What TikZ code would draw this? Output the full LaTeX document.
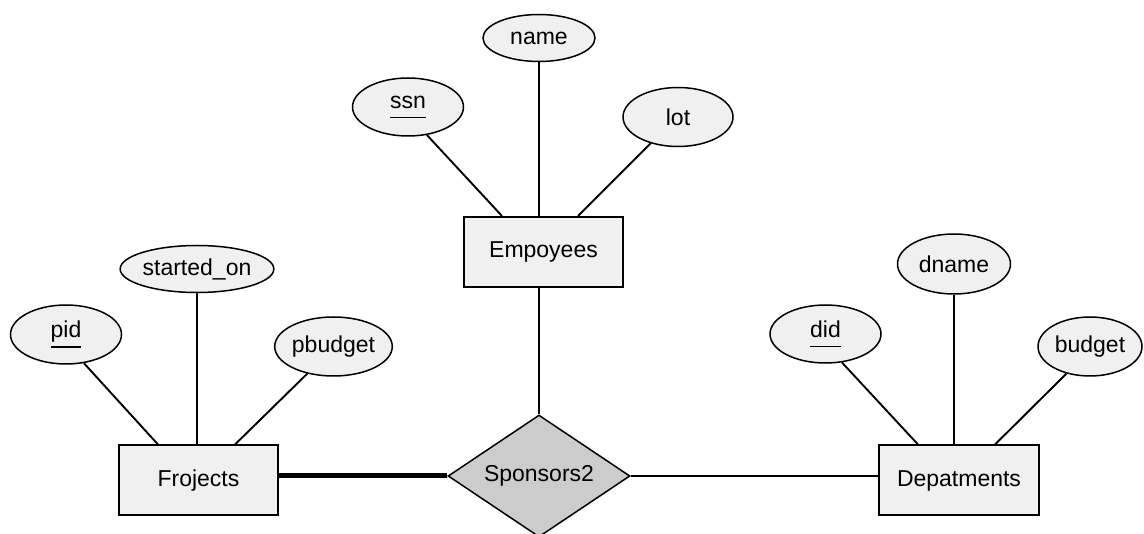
\documentclass[tikz,border=0pt]{standalone}
\usepackage{fontspec}
\setmainfont{Liberation Sans}
\usetikzlibrary{shapes.geometric}

\definecolor{attrfill}{HTML}{F0F0F0}
\definecolor{relfill}{HTML}{CCCCCC}

% underlined key attribute
\newcommand\keyattr[1]{\setbox0\hbox{#1}\rlap{\rule[-10pt]{\wd0}{1.6pt}}\box0}

\tikzset{
  lbl/.style={font=\fontsize{23}{27}\selectfont},
  attr/.style={lbl, ellipse, draw, line width=1.5pt, fill=attrfill, inner sep=0pt},
  entity/.style={lbl, rectangle, draw, line width=2pt, fill=attrfill, inner sep=0pt,
                 minimum width=159pt, minimum height=70pt},
  rel/.style={lbl, diamond, draw, line width=1.5pt, fill=relfill, inner sep=0pt,
              aspect=1.5, minimum width=182pt, minimum height=122pt},
  link/.style={line width=1.9pt},
  heavy/.style={line width=5pt},
}

\begin{document}
\begin{tikzpicture}[x=1pt,y=-1pt]
\useasboundingbox (0,0) rectangle (1144,534);

% Employees and its attributes
\node[attr, minimum width=112pt, minimum height=47pt] (name) at (539,38) {name};
\node[attr, minimum width=111pt, minimum height=58pt] (ssn) at (408,107) {\keyattr{ssn}};
\node[attr, minimum width=110pt, minimum height=59pt] (lot) at (678,117) {lot};
\node[entity] (emp) at (543.5,252) {Empoyees};

% Projects and its attributes
\node[attr, minimum width=145pt, minimum height=47pt] (started) at (197,269) {started\_on};
\node[attr, minimum width=111pt, minimum height=59pt] (pid) at (66,334.5) {\keyattr{pid}};
\node[attr, minimum width=111pt, minimum height=59pt] (pbudget) at (333.5,346.5) {pbudget};
\node[entity] (proj) at (198.5,480.5) {Frojects};

% Departments and its attributes
\node[attr, minimum width=113pt, minimum height=60pt] (dname) at (954,264) {dname};
\node[attr, minimum width=111pt, minimum height=58pt] (did) at (825.5,334) {\keyattr{did}};
\node[attr, minimum width=104pt, minimum height=59pt] (budget) at (1090,346.5) {budget};
\node[entity, minimum width=160pt] (dep) at (959,480.5) {Depatments};

% relationship
\node[rel] (spon) at (539,476) {Sponsors2};

% attribute links
\draw[link] (ssn.-56) -- ([xshift=-41.5pt]emp.north);
\draw[link] (name.south) -- (name.south |- emp.north);
\draw[link] (lot.-136) -- ([xshift=34.5pt]emp.north);

\draw[link] (pid.-58) -- ([xshift=-40.5pt]proj.north);
\draw[link] (started.south) -- (started.south |- proj.north);
\draw[link] (pbudget.-134) -- ([xshift=36.5pt]proj.north);

\draw[link] (did.-60) -- ([xshift=-41pt]dep.north);
\draw[link] (dname.south) -- (dname.south |- dep.north);
\draw[link] (budget.-131) -- ([xshift=36pt]dep.north);

% relationship links
\draw[link] (spon.north) -- (spon.north |- emp.south);
\draw[heavy] (spon.west) -- (spon.west -| proj.east);
\draw[link] (spon.east) -- (spon.east -| dep.west);
\end{tikzpicture}
\end{document}
